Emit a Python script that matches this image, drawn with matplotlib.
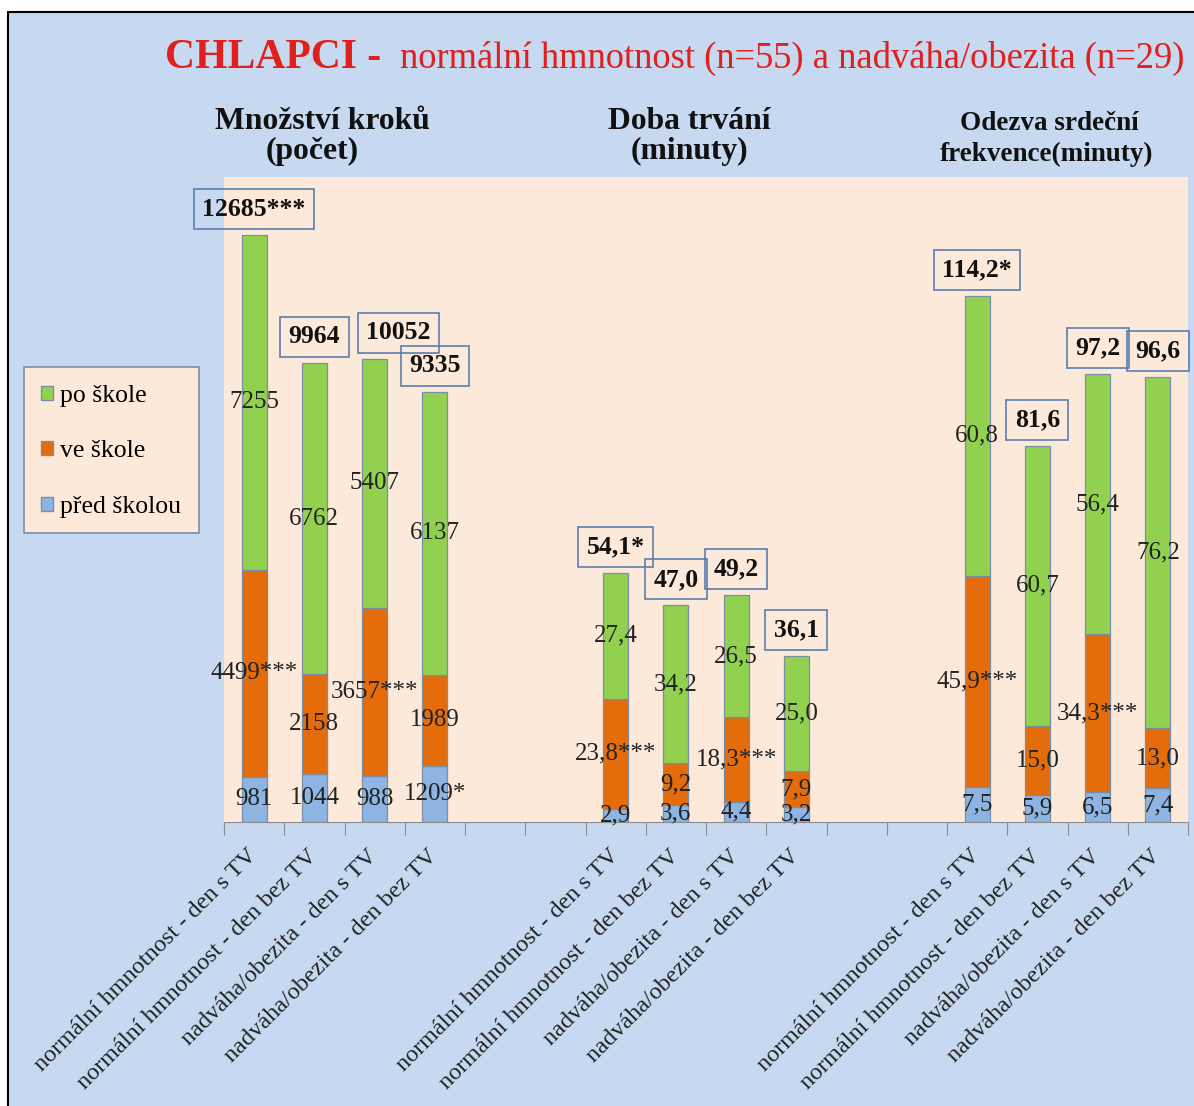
import matplotlib.pyplot as plt
from matplotlib.patches import Rectangle, Patch

plt.rcParams['font.family'] = ['Liberation Serif', 'DejaVu Serif']

W, H = 1194, 1106

# popisky sloupcu
labels = ["normální hmnotnost - den s TV", "normální hmnotnost - den bez TV",
          "nadváha/obezita - den s TV", "nadváha/obezita - den bez TV"]
groups = [["Množství kroků", "(počet)"], ["Doba trvání", "(minuty)"],
          ["Odezva srdeční", "frekvence(minuty)"]]
series = ["po škole", "ve škole", "před školou"]

# hodnoty: kroky, doba trvani, odezva SF
pred_skolou = [[981, 1044, 988, 1209], [2.9, 3.6, 4.4, 3.2], [7.5, 5.9, 6.5, 7.4]]
ve_skole = [[4499, 2158, 3657, 1989], [23.8, 9.2, 18.3, 7.9], [45.9, 15.0, 34.3, 13.0]]
po_skole = [[7255, 6762, 5407, 6137], [27.4, 34.2, 26.5, 25.0], [60.8, 60.7, 56.4, 76.2]]
celkem = [[12685, 9964, 10052, 9335], [54.1, 47.0, 49.2, 36.1], [114.2, 81.6, 97.2, 96.6]]

# hvezdicky (signifikance)
pred_sig = [["", "", "", "*"], ["", "", "", ""], ["", "", "", ""]]
ve_sig = [["***", "", "***", ""], ["***", "", "***", ""], ["***", "", "***", ""]]
celkem_sig = [["***", "", "", ""], ["*", "", "", ""], ["*", "", "", ""]]

# kroky jsou v grafu v setinach
scale = [0.01, 1, 1]

c_green = '#92d050'
c_orange = '#e46c0a'
c_blue = '#8db4e2'
c_edge = '#7a8ea8'


def fmt(v, g):
    if g == 0:
        return f"{v:.0f}"
    return f"{v:.1f}".replace(".", ",")


fig = plt.figure(figsize=(W / 100, H / 100), dpi=100, facecolor='white')
fig.patches.append(Rectangle((8 / W, -0.05), 1.2, 1 - 12 / H + 0.05, transform=fig.transFigure,
                             facecolor='#c6d9f1', edgecolor='black', lw=1.5, zorder=-10))

ax = fig.add_axes([224 / W, 1 - 822 / H, 964 / W, 645 / H])
ax.set_facecolor('#fde9d9')
ax.set_xlim(0, 16)
ax.set_ylim(0, 140)

centers = []
names = []
for g in range(3):
    for j in range(4):
        x = 6 * g + j + 0.5
        centers.append(x)
        names.append(labels[j])
        s = scale[g]
        b = pred_skolou[g][j] * s
        o = ve_skole[g][j] * s
        p = po_skole[g][j] * s
        ax.bar(x, b, 0.415, color=c_blue, edgecolor=c_edge, lw=0.9)
        ax.bar(x, o, 0.415, bottom=b, color=c_orange, edgecolor=c_edge, lw=0.9)
        ax.bar(x, p, 0.415, bottom=b + o, color=c_green, edgecolor=c_edge, lw=0.9)

        ax.text(x, b / 2, fmt(pred_skolou[g][j], g) + pred_sig[g][j],
                ha='center', va='center', fontsize=18, color='#222222')
        ax.text(x, b + o / 2, fmt(ve_skole[g][j], g) + ve_sig[g][j],
                ha='center', va='center', fontsize=18, color='#222222')
        ax.text(x, b + o + p / 2, fmt(po_skole[g][j], g),
                ha='center', va='center', fontsize=18, color='#222222')

        dx = 0.4 if (g == 0 and j == 2) else 0
        ax.annotate(fmt(celkem[g][j], g) + celkem_sig[g][j], xy=(x + dx, b + o + p),
                    xytext=(0, 10.5), textcoords='offset points', ha='center', va='bottom',
                    fontsize=18.5, fontweight='bold', color='#111111',
                    bbox=dict(boxstyle='square,pad=0.33', fc='none', ec='#5b7db0', lw=1.2),
                    annotation_clip=False)

for s in ['top', 'left', 'right']:
    ax.spines[s].set_visible(False)
ax.spines['bottom'].set_color('#8c8c8c')
ax.set_yticks([])
ax.set_xticks(range(17))
ax.set_xticklabels([])
ax.tick_params(axis='x', which='major', length=9, color='#8c8c8c', direction='out')
ax.set_xticks(centers, names, minor=True)
ax.tick_params(axis='x', which='minor', length=0, pad=22, labelsize=17.5, labelcolor='#222222')
for t in ax.get_xticklabels(minor=True):
    t.set_rotation(45)
    t.set_ha('right')
    t.set_va('center')
    t.set_rotation_mode('anchor')

# nadpisy
red = '#e0201c'
fig.text(165 / W, 1 - 68 / H, "CHLAPCI -", fontsize=30, fontweight='bold', color=red,
         ha='left', va='baseline')
fig.text(1184 / W, 1 - 68 / H, "normální hmnotnost (n=55) a nadváha/obezita (n=29)",
         fontsize=26.3, color=red, ha='right', va='baseline')

sub_x = [[322, 312], [689, 689], [1049, 1046]]
sub_y = [[129, 159], [129, 159], [130, 161]]
sub_size = [22.8, 22.8, 19.5]
for g in range(3):
    for k in range(2):
        fig.text(sub_x[g][k] / W, 1 - sub_y[g][k] / H, groups[g][k], fontsize=sub_size[g],
                 fontweight='bold', color='#111111', ha='center', va='baseline')

# legenda
fig.patches.append(Rectangle((24 / W, 1 - 533 / H), 175 / W, 166 / H, transform=fig.transFigure,
                             facecolor='#fde9d9', edgecolor='#7a8ea8', lw=1.2))
handles = [Patch(facecolor=c_green, edgecolor=c_edge),
           Patch(facecolor=c_orange, edgecolor=c_edge),
           Patch(facecolor=c_blue, edgecolor=c_edge)]
fig.legend(handles, series, loc='upper left', bbox_to_anchor=(41 / W, 1 - 385 / H),
           frameon=False, fontsize=18.5, handlelength=0.45, handleheight=0.45,
           handletextpad=0.3, labelspacing=1.3, borderpad=0, borderaxespad=0)

fig.savefig('out.png', dpi=100, facecolor=fig.get_facecolor())
